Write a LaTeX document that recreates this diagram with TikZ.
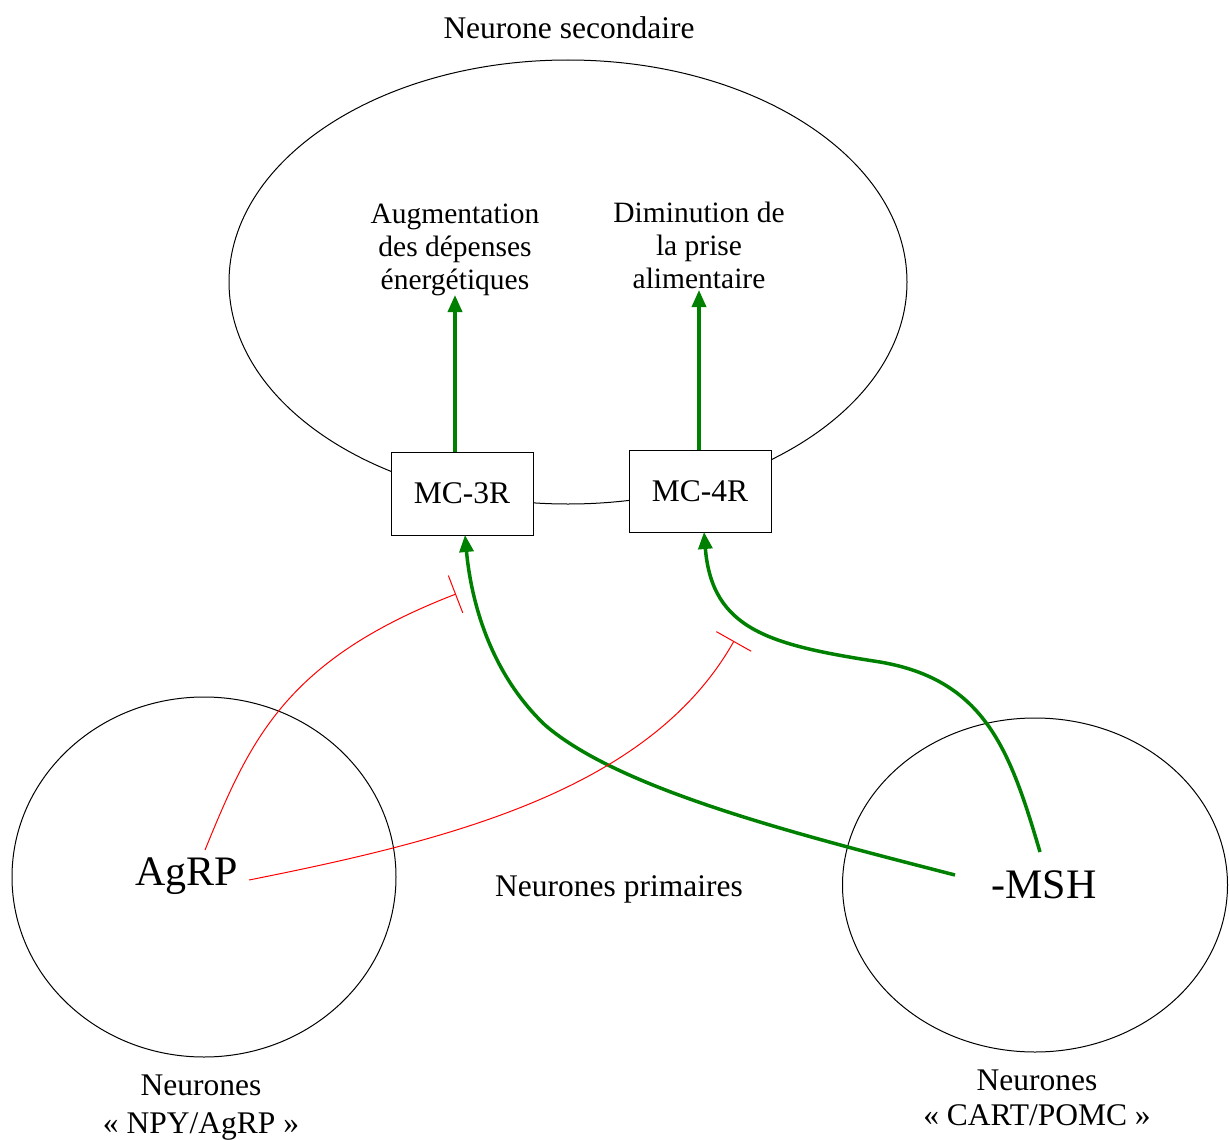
\documentclass[tikz,border=0pt]{standalone}
\usepackage{fontspec}
\setmainfont{Liberation Serif}
\usetikzlibrary{arrows.meta}
\definecolor{agreen}{RGB}{0,128,0}
\definecolor{ared}{RGB}{255,0,0}
\tikzset{
  txt/.style={inner sep=0pt, align=center, font=\fontsize{31.5}{33}\selectfont},
  smalltxt/.style={inner sep=0pt, align=center, font=\fontsize{29.5}{33}\selectfont},
  bigtxt/.style={inner sep=0pt, font=\fontsize{42}{44}\selectfont},
  cell/.style={draw=black, fill=white, line width=1pt, minimum width=142pt, inner sep=0pt, font=\fontsize{31.5}{33}\selectfont},
  neuron/.style={draw=black, line width=1pt},
  act/.style={draw=agreen, line width=3.5pt, -{Triangle[width=14pt,length=17pt]}},
  inh/.style={draw=ared, line width=1pt, -{Bar[width=40pt]}},
}
\begin{document}
\begin{tikzpicture}[x=1pt,y=-1pt]
\useasboundingbox (0,0) rectangle (1229,1140);
% neurons
\draw[neuron] (568,282) ellipse [x radius=339, y radius=222];
\draw[neuron] (204,877) ellipse [x radius=192, y radius=180];
\draw[neuron] (1035,885) ellipse [x radius=192.5, y radius=167];
% labels
\node[txt] (sec) at (569,28) {Neurone secondaire};
\node[smalltxt] (aug) at (455,250) {Augmentation\\des dépenses\\énergétiques};
\node[smalltxt] (dim) at (699,245) {Diminution de\\la prise\\alimentaire};
\node[txt] (prim) at (619,889) {Neurones primaires};
\node[bigtxt] (agrp) at (187,876) {AgRP};
\node[bigtxt] (msh) at (1044,885) {-MSH};
\node[txt] (npy) at (201,1108) {Neurones\\[5pt]« NPY/AgRP »};
\node[txt] (cart) at (1037,1098) {Neurones\\[2pt]« CART/POMC »};
% receptors
\node[cell, minimum height=83pt] (m3) at (462,493.5) {MC-3R};
\node[cell, minimum height=82pt] (m4) at (700,491) {MC-4R};
% coordinates
\coordinate (a3top) at (455,295);
\coordinate (a4top) at (699,290);
\coordinate (m3in) at (465,535);
\coordinate (m4in) at (704,532);
\coordinate (mshA) at (955,875);
\coordinate (mshB) at (1040,852);
\coordinate (agA) at (205,850);
\coordinate (agB) at (249,880);
\coordinate (inh3) at (456,594);
\coordinate (inh4) at (734,641);
% effects
\draw[act] (m3.north -| a3top) -- (a3top);
\draw[act] (m4.north -| a4top) -- (a4top);
% activations
\draw[act] (mshA) .. controls (800,835) and (620,790) .. (545,725)
  .. controls (485,668) and (470,590) .. (m3in);
\draw[act] (mshB) .. controls (1010,750) and (985,680) .. (880,662)
  .. controls (770,645) and (712,630) .. (m4in);
% inhibitions
\draw[inh] (agA) .. controls (250,740) and (285,660) .. (inh3);
\draw[inh] (agB) .. controls (450,840) and (650,790) .. (inh4);
\end{tikzpicture}
\end{document}
